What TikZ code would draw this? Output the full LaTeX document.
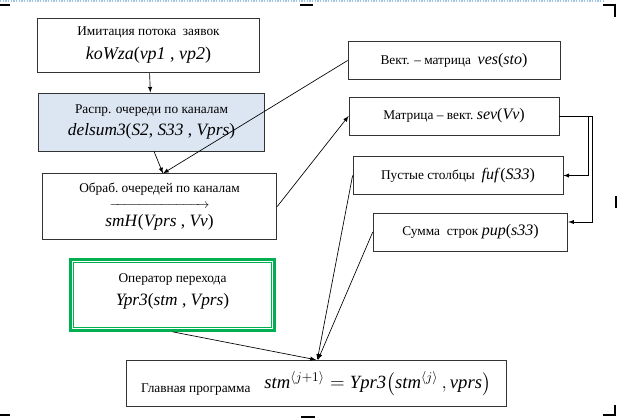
\documentclass[tikz,border=0pt]{standalone}
\usepackage{amsmath}
\usepackage{xcolor}
\usepackage{fontspec}
\setmainfont{Liberation Serif}
\usepackage{tikz}
\usetikzlibrary{positioning}

\definecolor{raspblue}{HTML}{DCE6F2}
\definecolor{opgreen}{HTML}{00B050}
\definecolor{selblue}{HTML}{9DC3E6}

\tikzset{
  block/.style={draw=black!80, line width=0.6pt, align=center, inner sep=1pt,
    font=\rmfamily\fontsize{10}{13}\selectfont},
  link/.style={->, >=latex, line width=0.5pt},
  handle/.style={line width=2pt, black}
}

\begin{document}
\begin{tikzpicture}[x=0.75pt, y=-0.75pt]
\useasboundingbox (0,0) rectangle (618,419);
% selection frame
\draw[selblue, densely dotted, line width=1pt] (0,1) -- (605,1);
\draw[handle] (0,5) -- (10,5);
\draw[handle] (300,5) -- (313,5);
\draw[handle] (603,5) -- (615,5) -- (615,17);
\draw[handle] (616,196) -- (616,208);
\draw[handle] (615,405) -- (615,415) -- (603,415);
\draw[handle] (0,415) -- (10,415);
\draw[handle] (301,417) -- (315,417);

% left column
\node[block, minimum width=167pt, minimum height=41pt] (imit) at (148.5,45.5)
  {Имитация потока\ \ заявок\\[5pt]
   {\fontsize{13.5}{15}\selectfont\textit{koWza}(\textit{vp1} , \textit{vp2})}};
\node[block, fill=raspblue, minimum width=169pt, minimum height=43.5pt] (raspr) at (151.5,122)
  {Распр. очереди по каналам\\[3pt]
   {\fontsize{13}{15}\selectfont\textit{delsum3}(\textit{S2}, \textit{S33} , \textit{Vprs})}};
\node[block, minimum width=176pt, minimum height=49pt] (obrab) at (159.5,206.5)
  {Обраб.\ очередей по каналам\\[-1pt]
   $\overrightarrow{\hbox to 75pt{\hfil}}$\\[1pt]
   {\fontsize{13}{15}\selectfont\textit{smH}(\textit{Vprs} , \textit{Vv})}};
\node[block, draw=opgreen, line width=2.2pt, minimum width=153pt, minimum height=53pt] (oper) at (172.5,295)
  {Оператор перехода\\[4pt]
   {\fontsize{13}{15}\selectfont\textit{Ypr3}(\textit{stm} , \textit{Vprs})}\\[-5pt]};
\draw[opgreen, line width=0.6pt] ([shift={(4.5,4.5)}]oper.north west) rectangle ([shift={(-4.5,-4.5)}]oper.south east);

% right column
\node[block, minimum width=159pt, minimum height=28pt] (vek) at (454,60.5)
  {Вект. -- матрица\ \ {\fontsize{12}{14}\selectfont\textit{ves}(\textit{sto})}};
\node[block, minimum width=157.5pt, minimum height=28.5pt] (mat) at (454,116)
  {Матрица -- вект.\ {\fontsize{12}{14}\selectfont\textit{sev}(\textit{Vv})}};
\node[block, minimum width=157.5pt, minimum height=28pt] (pus) at (458,175.5)
  {Пустые столбцы\ \ {\fontsize{12}{14}\selectfont\textit{fuf}(\textit{S33})}};
\node[block, minimum width=146pt, minimum height=28.5pt] (sum) at (470.5,232)
  {Сумма\ \ строк\ {\fontsize{12}{14}\selectfont\textit{pup}(\textit{s33})}};

% main program
\node[block, minimum width=285pt, minimum height=35pt] (main) at (316,383.5)
  {\raisebox{-3pt}{\fontsize{10}{12}\selectfont Главная программа}\hspace{8pt}
   {\fontsize{14}{16}\selectfont$\mathit{stm}^{\langle j+1\rangle} = \mathit{Ypr3}\bigl(\mathit{stm}^{\langle j\rangle}\, ,\mathit{vprs}\bigr)$}};

% connectors
\draw[link] (imit) -- (raspr);
\draw[link] ([xshift=1.9pt]raspr.south) -- ([xshift=2.6pt]obrab.north);
\draw[link] (vek.west) -- ([xshift=2.6pt]obrab.north);
\draw[link] (obrab.east) -- (mat.west);
\draw[link] (mat.east) -- ++(29,0) |- (pus.east);
\draw[link] (mat.east) -- ++(33,0) |- ([yshift=7.5pt]sum.east);
\draw[link] (pus.west) -- ([xshift=1pt]main.north);
\draw[link] (sum.west) -- ([xshift=1.5pt]main.north);
\draw[link] (oper.south) -- (main.north);
\end{tikzpicture}
\end{document}
